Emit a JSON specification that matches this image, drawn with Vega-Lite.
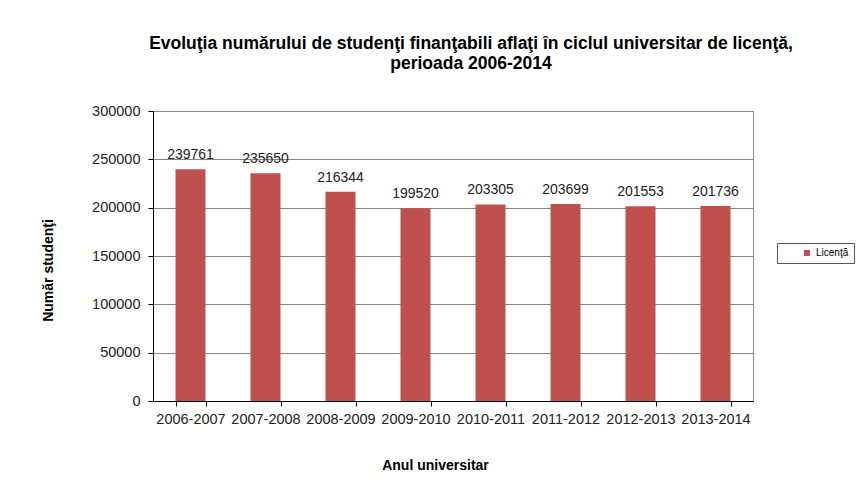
{
  "$schema": "https://vega.github.io/schema/vega-lite/v6.json",
  "width": 600,
  "height": 290,
  "autosize": "none",
  "padding": {"left": 153, "top": 111, "right": 113, "bottom": 90},
  "background": "white",
  "title": {
    "text": ["Evoluţia numărului de studenţi finanţabili aflaţi în ciclul universitar de licenţă,", "perioada 2006-2014"],
    "font": "Liberation Sans",
    "fontSize": 17.5,
    "fontWeight": "bold",
    "color": "black",
    "anchor": "middle",
    "frame": "group",
    "baseline": "top",
    "lineHeight": 20,
    "dx": 18,
    "offset": 31
  },
  "data": {
    "values": [
      {"an": "2006-2007", "numar": 239761, "serie": "Licenţă"},
      {"an": "2007-2008", "numar": 235650, "serie": "Licenţă"},
      {"an": "2008-2009", "numar": 216344, "serie": "Licenţă"},
      {"an": "2009-2010", "numar": 199520, "serie": "Licenţă"},
      {"an": "2010-2011", "numar": 203305, "serie": "Licenţă"},
      {"an": "2011-2012", "numar": 203699, "serie": "Licenţă"},
      {"an": "2012-2013", "numar": 201553, "serie": "Licenţă"},
      {"an": "2013-2014", "numar": 201736, "serie": "Licenţă"}
    ]
  },
  "encoding": {
    "x": {
      "field": "an",
      "type": "nominal",
      "sort": null,
      "scale": {"paddingInner": 0.6, "paddingOuter": 0.3},
      "axis": {
        "title": "Anul universitar",
        "titleFont": "Liberation Sans",
        "titleFontSize": 14,
        "titleFontWeight": "bold",
        "titleColor": "black",
        "titleX": 282,
        "titleY": 64,
        "titleBaseline": "middle",
        "titleAnchor": "middle",
        "labelAngle": 0,
        "labelFont": "Liberation Sans",
        "labelFontSize": 14.5,
        "labelColor": "#222222",
        "labelPadding": 6,
        "tickBand": "extent",
        "tickSize": 5,
        "tickColor": "black",
        "domainColor": "black",
        "grid": false
      }
    },
    "y": {
      "field": "numar",
      "type": "quantitative",
      "scale": {"domain": [0, 300000]},
      "axis": {
        "title": "Număr studenţi",
        "titleFont": "Liberation Sans",
        "titleFontSize": 14,
        "titleFontWeight": "bold",
        "titleColor": "black",
        "titleX": -105,
        "titleY": 159,
        "titleAngle": -90,
        "titleAlign": "center",
        "titleBaseline": "middle",
        "values": [0, 50000, 100000, 150000, 200000, 250000, 300000],
        "format": "d",
        "labelFont": "Liberation Sans",
        "labelFontSize": 14.5,
        "labelColor": "#222222",
        "labelPadding": 8,
        "tickSize": 5,
        "tickColor": "black",
        "domainColor": "black",
        "grid": true,
        "gridColor": "#868686",
        "gridWidth": 1
      }
    }
  },
  "layer": [
    {
      "mark": {"type": "bar", "color": "#C0504D"},
      "encoding": {
        "color": {
          "field": "serie",
          "type": "nominal",
          "scale": {"range": ["#C0504D"]},
          "legend": {
            "title": null,
            "orient": "none",
            "legendX": 624,
            "legendY": 132,
            "padding": 5,
            "strokeColor": "#555555",
            "fillColor": "white",
            "symbolType": "square",
            "symbolSize": 36,
            "symbolStrokeWidth": 0,
            "symbolOffset": 20,
            "labelOffset": 4,
            "labelFont": "Liberation Sans",
            "labelFontSize": 10,
            "labelColor": "black"
          }
        }
      }
    },
    {
      "mark": {
        "type": "text",
        "dy": -10,
        "baseline": "alphabetic",
        "font": "Liberation Sans",
        "fontSize": 14,
        "color": "#222222"
      },
      "encoding": {
        "text": {"field": "numar", "type": "quantitative", "format": "d"}
      }
    }
  ],
  "config": {
    "view": {"stroke": "#868686", "strokeWidth": 1}
  }
}
